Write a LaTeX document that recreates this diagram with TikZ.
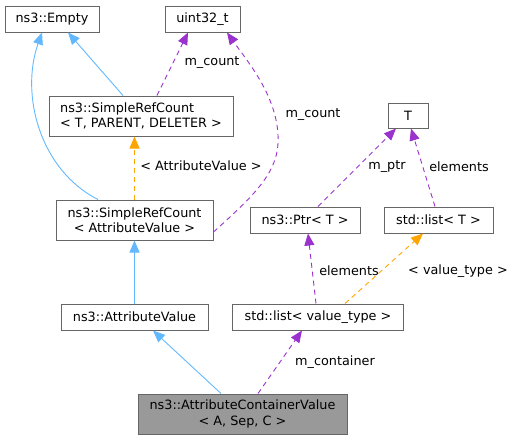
\documentclass[tikz,border=0pt]{standalone}
\usepackage{fontspec}
\setmainfont{DejaVu Sans}
\usetikzlibrary{arrows.meta}
\definecolor{inhblue}{HTML}{63B8FF}
\definecolor{usepurple}{HTML}{9A32CD}
\definecolor{tmplorange}{HTML}{FFA500}
\definecolor{bordergray}{HTML}{666666}
\definecolor{mainfill}{HTML}{999999}
\tikzset{
  cls/.style={draw=bordergray, line width=1pt, fill=white, inner sep=0pt, align=center,
    font=\fontsize{12.8}{15.3}\selectfont},
  mainbox/.style={cls, fill=mainfill},
  tip/.style={-{Triangle[length=12pt,width=10pt]}},
  inh/.style={tip, draw=inhblue, line width=0.9pt},
  usage/.style={tip, draw=usepurple, line width=0.9pt, dash pattern=on 5pt off 4pt},
  tmpl/.style={tip, draw=tmplorange, line width=0.9pt, dash pattern=on 5pt off 4pt},
  lbl/.style={font=\fontsize{12.8}{15.3}\selectfont, inner sep=0pt, fill=none}
}
\begin{document}
\begin{tikzpicture}[x=1pt,y=-1pt]
\useasboundingbox (0,0) rectangle (516,440);
% nodes
\node[cls, minimum width=94pt, minimum height=26pt] (empty) at (52,19) {ns3::Empty};
\node[cls, minimum width=75pt, minimum height=26pt] (uint) at (202.5,19) {uint32\_t};
\node[cls, minimum width=184pt, minimum height=40pt, align=left] (srcT) at (141,116) {ns3::SimpleRefCount\\< T, PARENT, DELETER >};
\node[cls, minimum width=157pt, minimum height=40pt] (srcAV) at (134.5,220) {ns3::SimpleRefCount\\< AttributeValue >};
\node[cls, minimum width=40pt, minimum height=25pt] (T) at (408,115.5) {T};
\node[cls, minimum width=110pt, minimum height=26pt] (ptr) at (305,220) {ns3::Ptr< T >};
\node[cls, minimum width=109pt, minimum height=26pt] (listT) at (438.5,220) {std::list< T >};
\node[cls, minimum width=147pt, minimum height=26pt] (av) at (134.5,317) {ns3::AttributeValue};
\node[cls, minimum width=171pt, minimum height=26pt] (listVT) at (318,317) {std::list< value\_type >};
\node[mainbox, minimum width=209pt, minimum height=40pt] (main) at (242.5,414) {ns3::AttributeContainerValue\\< A, Sep, C >};
% inheritance
\draw[inh] ([xshift=-18pt]srcT.north) -- ([xshift=16pt]empty.south);
\draw[inh] ([xshift=-36.5pt]srcAV.north) .. controls (40,170) and (20,95) .. ([xshift=-10pt]empty.south);
\draw[inh] (av.north) -- (srcAV.south);
\draw[inh] ([xshift=-21.5pt]main.north) -- ([xshift=18.5pt]av.south);
% template
\draw[tmpl] (srcAV.north) -- (srcAV.north |- srcT.south);
\draw[tmpl] ([xshift=27pt]listVT.north) -- ([xshift=-15.5pt]listT.south);
% usage
\draw[usage] ([xshift=16pt]srcT.north) -- ([xshift=-14.5pt]uint.south);
\draw[usage] ([yshift=-12pt]srcAV.east) .. controls (258,192) and (280,170) .. (278,135) .. controls (276,95) and (248,62) .. ([xshift=24.5pt]uint.south);
\draw[usage] ([xshift=15.5pt]main.north) -- ([xshift=-16pt]listVT.south);
\draw[usage] ([xshift=-2pt]listVT.north) -- ([xshift=3pt]ptr.south);
\draw[usage] ([xshift=13pt]ptr.north) -- ([xshift=-12pt]T.south);
\draw[usage] ([xshift=-3.5pt]listT.north) -- ([xshift=3pt]T.south);
% labels
\node[lbl] (l0) at (201,166) {< AttributeValue >};
\node[lbl] (l1) at (212,63) {m\_count};
\node[lbl] (l2) at (313,115) {m\_count};
\node[lbl] (l3) at (387,167) {m\_ptr};
\node[lbl] (l4) at (459,167) {elements};
\node[lbl] (l5) at (349,271) {elements};
\node[lbl] (l6) at (458,271) {< value\_type >};
\node[lbl] (l7) at (335,362) {m\_container};
\end{tikzpicture}
\end{document}
